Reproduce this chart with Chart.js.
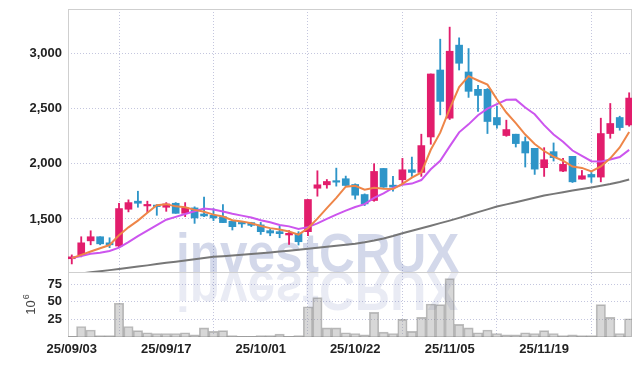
<!DOCTYPE html>
<html>
<head>
<meta charset="utf-8">
<script src="https://cdn.jsdelivr.net/npm/chart.js@4.4.1/dist/chart.umd.min.js"></script>
<style>
  html, body { margin: 0; padding: 0; background: #fff; }
</style>
</head>
<body>
<canvas id="chart" width="642" height="366"></canvas>
<script>
// trading days (YY/MM/DD)
const dates = ['25/09/03','25/09/04','25/09/05','25/09/08','25/09/09','25/09/10','25/09/11','25/09/12','25/09/15','25/09/16',
  '25/09/17','25/09/18','25/09/19','25/09/22','25/09/23','25/09/24','25/09/25','25/09/26','25/09/29','25/09/30',
  '25/10/01','25/10/02','25/10/10','25/10/13','25/10/14','25/10/15','25/10/16','25/10/17','25/10/20','25/10/21',
  '25/10/22','25/10/23','25/10/24','25/10/27','25/10/28','25/10/29','25/10/30','25/10/31','25/11/03','25/11/04',
  '25/11/05','25/11/06','25/11/07','25/11/10','25/11/11','25/11/12','25/11/13','25/11/14','25/11/17','25/11/18',
  '25/11/19','25/11/20','25/11/21','25/11/24','25/11/25','25/11/26','25/11/27','25/11/28','25/12/01','25/12/02'];

const opens  = [1140,1175,1302,1339,1284,1255,1588,1661,1618,1624, 1606,1642,1551,1600,1545,1533,1521,1479,1467,1467,
  1446,1394,1385,1355,1370,1385,1778,1809,1845,1864, 1812,1721,1667,1957,1806,1855,1945,1921,2242,2848,
  2412,3073,2830,2673,2673,2418,2255,2267,2200,2139, 1964,2109,1933,2067,1860,1903,1879,2273,2418,2351];
const highs  = [1175,1339,1393,1339,1330,1642,1673,1751,1661,1630, 1648,1648,1648,1610,1697,1594,1630,1479,1470,1470,
  1469,1409,1433,1394,1385,1676,1936,1857,1960,1888, 1818,1727,2000,1957,1885,2048,2060,2267,2812,3127,
  3236,3139,3042,2709,2680,2521,2394,2267,2242,2139, 2145,2188,2048,2067,1939,1921,2412,2545,2430,2642];
const lows   = [1093,1157,1266,1266,1240,1250,1564,1606,1557,1533, 1569,1551,1521,1460,1521,1485,1467,1400,1424,1430,
  1360,1348,1330,1270,1264,1348,1706,1778,1797,1797, 1679,1621,1660,1785,1751,1818,1885,1885,2176,2442,
  2400,2848,2600,2473,2273,2321,2248,2151,1970,1903, 1885,2024,1927,1830,1860,1830,1836,2230,2303,2339];
const closes = [1157,1284,1339,1275,1266,1594,1648,1642,1630,1612, 1636,1551,1600,1509,1527,1509,1467,1430,1455,1442,
  1385,1373,1367,1370,1294,1676,1809,1839,1833,1803, 1715,1636,1930,1788,1788,1945,1921,2164,2812,2564,
  3018,2909,2655,2618,2382,2351,2309,2182,2097,1951, 2036,2055,1994,1836,1891,1879,2273,2364,2327,2594];

// volume, millions of shares
const volumes = [1,15,10,2,2,48,15,9,6,5, 5,5,6,3,13,8,9,2,1,1,
  2,2,4,1,2,43,56,13,13,6, 5,3,35,7,5,25,8,28,47,46,
  83,18,13,6,10,5,3,3,6,5, 9,5,2,3,2,2,46,28,5,26];

// moving averages
const ma5  = [1146,1175,1205,1235,1264,1352,1424,1485,1556,1625, 1634,1614,1606,1582,1565,1539,1522,1488,1478,1461,
  1436,1417,1404,1387,1358,1416,1503,1598,1690,1792, 1800,1765,1783,1774,1771,1817,1874,1921,2126,2281,
  2496,2693,2792,2753,2716,2583,2463,2368,2264,2178, 2115,2064,2027,1974,1962,1931,1975,2049,2147,2287];
const ma10 = [1146,1165,1185,1195,1210,1240,1290,1345,1395,1445, 1493,1519,1545,1569,1595,1586,1568,1547,1530,1513,
  1488,1470,1446,1433,1409,1426,1460,1501,1539,1575, 1608,1634,1691,1732,1782,1809,1820,1852,1950,2026,
  2157,2284,2356,2439,2499,2539,2578,2580,2509,2447, 2349,2264,2198,2119,2070,2023,2019,2038,2061,2125];
const ma60 = [997,1007,1017,1027,1037,1048,1058,1069,1080,1092, 1103,1113,1124,1135,1146,1157,1163,1170,1176,1182,
  1189,1197,1205,1213,1221,1230,1239,1248,1257,1266, 1276,1290,1306,1324,1346,1371,1393,1416,1439,1462,
  1485,1510,1536,1562,1587,1612,1632,1652,1672,1692, 1712,1727,1742,1757,1771,1785,1800,1816,1835,1857];

const xTicks = [0, 10, 20, 30, 40, 50];
const priceTicks = [1500, 2000, 2500, 3000];
const volTicks = [25, 50, 75];

const UP = '#e21d6c';
const DOWN = '#2e95c8';
const dirColors = closes.map((c, i) => c >= opens[i] ? UP : DOWN);

const tickFont = { family: '"Liberation Sans", Arial, sans-serif', size: 13, weight: 'bold' };
const gridColor = '#c4c6de';

const pts = arr => arr.map((v, i) => ({ x: i, y: v }));

// y axes: fixed width, no edge padding so the plot starts right at the top
const fitY = s => { s.width = 68; s.paddingTop = 0; s.paddingBottom = 0; };

// watermark + frame behind the marks, unit label on top
const decor = {
  id: 'decor',
  beforeDatasetsDraw(chart) {
    const ctx = chart.ctx;
    const base = chart.scales.y.bottom;
    ctx.save();
    ctx.font = 'bold 55px "Liberation Sans", Arial, sans-serif';
    ctx.textAlign = 'left';
    ctx.textBaseline = 'alphabetic';
    ctx.translate(176, base);
    ctx.scale(0.9, 1);
    ctx.fillStyle = 'rgba(35,60,150,0.2)';
    ctx.fillText('investCRUX', 0, 0);
    ctx.scale(1, -1);
    ctx.fillStyle = 'rgba(35,60,150,0.1)';
    ctx.fillText('investCRUX', 0, 0);
    ctx.restore();

    const a = chart.chartArea;
    ctx.save();
    ctx.strokeStyle = '#cfcfcf';
    ctx.lineWidth = 1;
    ctx.strokeRect(a.left + 0.5, a.top + 0.5, a.right - a.left - 1, a.bottom - a.top - 1);
    ctx.beginPath();
    ctx.moveTo(a.left, Math.round(base) + 0.5);
    ctx.lineTo(a.right, Math.round(base) + 0.5);
    ctx.stroke();
    ctx.restore();
  },
  afterDraw(chart) {
    const ctx = chart.ctx;
    const yv = chart.scales.yv;
    const cy = (yv.top + yv.bottom) / 2;
    ctx.save();
    ctx.translate(35, cy);
    ctx.rotate(-Math.PI / 2);
    ctx.fillStyle = '#444';
    ctx.textBaseline = 'alphabetic';
    ctx.textAlign = 'left';
    ctx.font = '13px "Liberation Sans", Arial, sans-serif';
    const w = ctx.measureText('10').width;
    ctx.fillText('10', -w / 2 - 3, 0);
    ctx.font = '9px "Liberation Sans", Arial, sans-serif';
    ctx.fillText('6', w / 2 - 2, -6);
    ctx.restore();
  }
};

new Chart(document.getElementById('chart'), {
  type: 'bar',
  data: {
    datasets: [
      { type: 'line', label: 'MA5', data: pts(ma5), yAxisID: 'y', borderColor: '#ee8548', borderWidth: 2,
        pointRadius: 0, tension: 0, order: 0 },
      { type: 'line', label: 'MA10', data: pts(ma10), yAxisID: 'y', borderColor: '#cc55ee', borderWidth: 2,
        pointRadius: 0, tension: 0, order: 0 },
      { type: 'line', label: 'MA60', data: pts(ma60), yAxisID: 'y', borderColor: '#777777', borderWidth: 2,
        pointRadius: 0, tension: 0, order: 0 },
      { label: 'body', data: opens.map((o, i) => ({ x: i, y: [o, closes[i]] })), yAxisID: 'y',
        backgroundColor: dirColors, barThickness: 7, grouped: false, minBarLength: 1.5, order: 1 },
      { label: 'wick', data: lows.map((l, i) => ({ x: i, y: [l, highs[i]] })), yAxisID: 'y',
        backgroundColor: dirColors, barThickness: 1.2, grouped: false, order: 2 },
      { label: 'volume', data: pts(volumes), yAxisID: 'yv',
        backgroundColor: 'rgba(150,150,150,0.38)', borderColor: 'rgba(110,110,110,0.45)', borderWidth: 1,
        barThickness: 9.4, grouped: false, order: 3 }
    ]
  },
  options: {
    responsive: false,
    animation: false,
    layout: { padding: { top: 9, right: 10, left: 0, bottom: 0 } },
    plugins: { legend: { display: false }, tooltip: { enabled: false } },
    scales: {
      x: {
        type: 'linear', min: -0.4, max: 59.3, offset: false,
        afterBuildTicks: s => { s.ticks = xTicks.map(v => ({ value: v })); },
        afterFit: s => { s.height = 29; s.paddingLeft = 0; s.paddingRight = 0; },
        ticks: { callback: v => dates[v], font: tickFont, color: '#222', padding: 5, maxRotation: 0, autoSkip: false },
        grid: { color: gridColor, drawTicks: false },
        border: { display: false, dash: [1, 2] }
      },
      y: {
        position: 'left', stack: 'panels', stackWeight: 263, weight: 2,
        min: 1020, max: 3400,
        afterBuildTicks: s => { s.ticks = priceTicks.map(v => ({ value: v })); },
        afterFit: fitY,
        ticks: { callback: v => v.toLocaleString('en-US'), font: tickFont, color: '#222', padding: 6, autoSkip: false },
        grid: { color: gridColor, drawTicks: false },
        border: { display: false, dash: [1, 2] }
      },
      yv: {
        position: 'left', stack: 'panels', stackWeight: 65, weight: 1,
        min: 0, max: 92.5,
        afterBuildTicks: s => { s.ticks = volTicks.map(v => ({ value: v })); },
        afterFit: fitY,
        ticks: { font: tickFont, color: '#222', padding: 6, autoSkip: false },
        grid: { color: gridColor, drawTicks: false },
        border: { display: false, dash: [1, 2] }
      }
    }
  },
  plugins: [decor]
});
</script>
</body>
</html>
